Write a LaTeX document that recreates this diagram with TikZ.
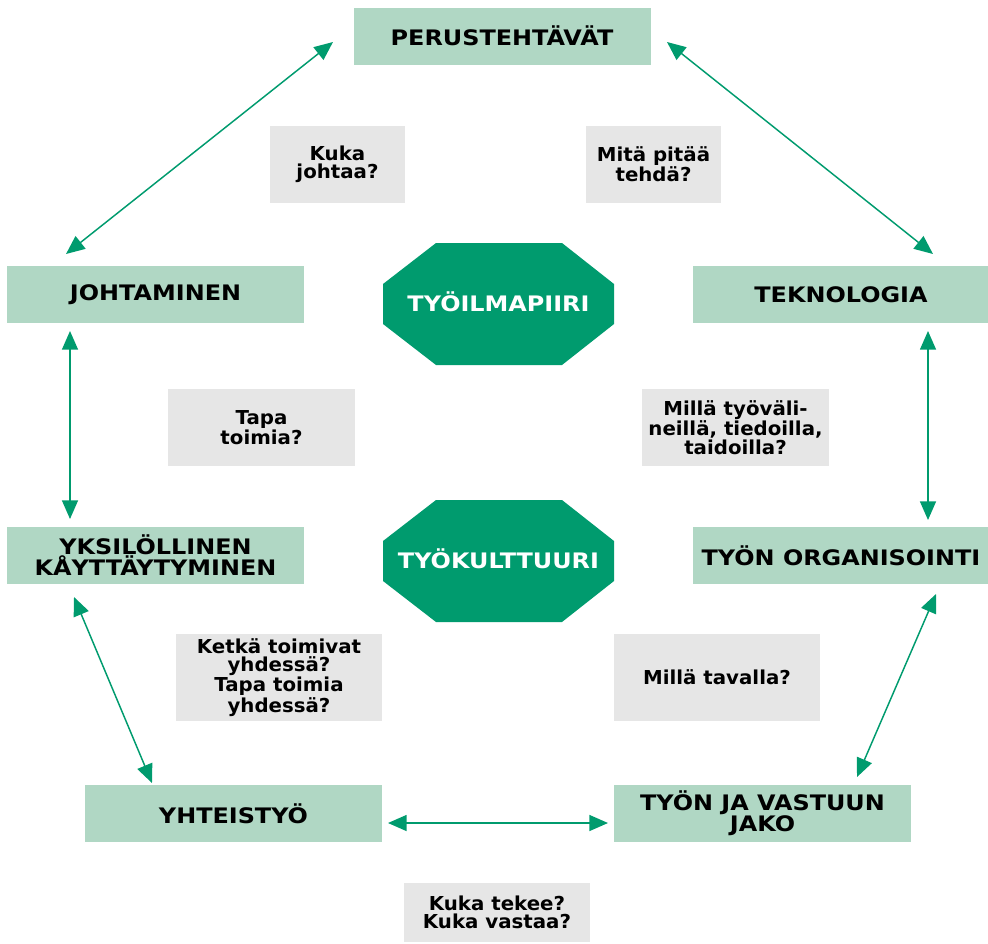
\documentclass[tikz,border=0pt]{standalone}
\usepackage{fontspec}
\setmainfont{DejaVu Sans}[FakeStretch=1.12]
\newfontfamily\qfont{DejaVu Sans}[FakeStretch=1.03]
\usetikzlibrary{arrows.meta}
\definecolor{boxgreen}{HTML}{B0D7C4}
\definecolor{darkgreen}{HTML}{009B6E}
\definecolor{qgray}{HTML}{E6E6E6}
\begin{document}
\begin{tikzpicture}[x=0.75pt,y=-0.75pt,
  mainbox/.style={fill=boxgreen,draw=none,minimum width=222.75pt,minimum height=42.75pt,inner sep=0pt,align=center,
     font=\bfseries\fontsize{16}{15.8}\selectfont},
  qbox/.style={fill=qgray,draw=none,inner sep=0pt,align=center,
     font=\qfont\bfseries\fontsize{14.4}{13.6}\selectfont},
  octo/.style={fill=darkgreen,draw=none},
  octotext/.style={text=white,font=\bfseries\fontsize{16}{15.8}\selectfont,inner sep=0pt},
  link/.style={draw=darkgreen,line width=1.1pt,{Triangle[length=14pt,width=12pt]}-{Triangle[length=14pt,width=12pt]}}
]
\useasboundingbox (0,0) rectangle (988,943);

% main boxes
\node[mainbox] (per) at (502,36) {PERUSTEHTÄVÄT};
\node[mainbox] (joh) at (155.5,294.5) {JOHTAMINEN};
\node[mainbox] (tek) at (841,294.5) {TEKNOLOGIA};
\node[mainbox] (yks) at (155.5,555.5) {YKSILÖLLINEN\\KÅYTTÄYTYMINEN};
\node[mainbox] (org) at (841,555.5) {TYÖN ORGANISOINTI};
\node[mainbox] (yht) at (233.5,813.5) {YHTEISTYÖ};
\node[mainbox] (jak) at (762.5,813.5) {TYÖN JA VASTUUN\\JAKO};

% question boxes
\node[qbox,minimum width=101.25pt,minimum height=57.75pt] (q1) at (337.5,164.5) {Kuka\\johtaa?};
\node[qbox,minimum width=101.25pt,minimum height=57.75pt] (q2) at (653.5,164.5) {Mitä pitää\\tehdä?};
\node[qbox,minimum width=140.25pt,minimum height=57.75pt] (q3) at (261.5,427.5) {Tapa\\toimia?};
\node[qbox,minimum width=140.25pt,minimum height=57.75pt] (q4) at (735.5,427.5) {Millä työväli-\\neillä, tiedoilla,\\taidoilla?};
\node[qbox,minimum width=154.5pt,minimum height=65.25pt] (q5) at (279,677.5) {Ketkä toimivat\\yhdessä?\\Tapa toimia\\yhdessä?};
\node[qbox,minimum width=154.5pt,minimum height=65.25pt] (q6) at (717,677.5) {Millä tavalla?};
\node[qbox,minimum width=139.5pt,minimum height=44.25pt] (q7) at (497,912.5) {Kuka tekee?\\Kuka vastaa?};

% octagons
\fill[octo] (436,243) -- (562,243) -- (614,284) -- (614,324) -- (562,365) -- (436,365) -- (383,324) -- (383,284) -- cycle;
\node[octotext] (ilm) at (498.5,302) {TYÖILMAPIIRI};
\fill[octo] (436,500) -- (562,500) -- (614,541) -- (614,581) -- (562,622) -- (436,622) -- (383,581) -- (383,541) -- cycle;
\node[octotext] (kul) at (498.5,559) {TYÖKULTTUURI};

% connector end points
\coordinate (a1) at (333,42);  \coordinate (a2) at (66,254);
\coordinate (b1) at (667,42);  \coordinate (b2) at (933,254);
\coordinate (c1) at (70,331);  \coordinate (c2) at (70,519);
\coordinate (d1) at (928,331); \coordinate (d2) at (928,520);
\coordinate (e1) at (74,597);  \coordinate (e2) at (152,783);
\coordinate (f1) at (936,594); \coordinate (f2) at (857,777);
\coordinate (g1) at (388,823); \coordinate (g2) at (608,823);

\draw[link] (a1) -- (a2);
\draw[link] (b1) -- (b2);
\draw[link] (c1) -- (c2);
\draw[link] (d1) -- (d2);
\draw[link] (e1) -- (e2);
\draw[link] (f1) -- (f2);
\draw[link] (g1) -- (g2);
\end{tikzpicture}
\end{document}
